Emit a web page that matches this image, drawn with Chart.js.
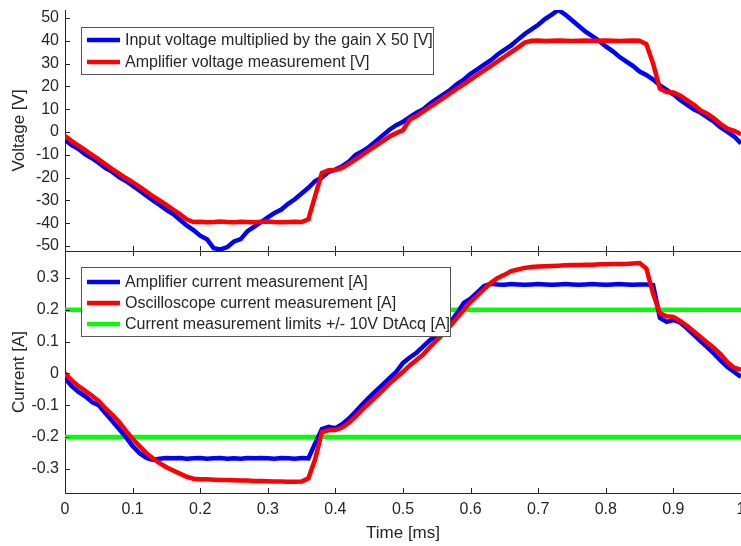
<!DOCTYPE html>
<html>
<head>
<meta charset="utf-8">
<script src="https://cdn.jsdelivr.net/npm/chart.js@4/dist/chart.umd.min.js"></script>
<style>
  body { margin: 0; background: #fff; width: 741px; height: 546px; overflow: hidden; position: relative; }
  #topWrap { position: absolute; left: 0; top: 0; width: 741px; height: 262px; }
  #botWrap { position: absolute; left: 0; top: 240px; width: 741px; height: 306px; }
</style>
</head>
<body>
<div id="topWrap"><canvas id="voltChart"></canvas></div>
<div id="botWrap"><canvas id="currChart"></canvas></div>
<script>
// time axis [ms]
const time = [
  0, 0.01, 0.02, 0.03, 0.04, 0.05, 0.06, 0.07, 0.08, 0.09,
  0.1, 0.11, 0.12, 0.13, 0.14, 0.15, 0.16, 0.17, 0.18, 0.19,
  0.2, 0.21, 0.22, 0.23, 0.24, 0.25, 0.26, 0.27, 0.28, 0.29,
  0.3, 0.31, 0.32, 0.33, 0.34, 0.35, 0.36, 0.37, 0.38, 0.39,
  0.4, 0.41, 0.42, 0.43, 0.44, 0.45, 0.46, 0.47, 0.48, 0.49,
  0.5, 0.51, 0.52, 0.53, 0.54, 0.55, 0.56, 0.57, 0.58, 0.59,
  0.6, 0.61, 0.62, 0.63, 0.64, 0.65, 0.66, 0.67, 0.68, 0.69,
  0.7, 0.71, 0.72, 0.73, 0.74, 0.75, 0.76, 0.77, 0.78, 0.79,
  0.8, 0.81, 0.82, 0.83, 0.84, 0.85, 0.86, 0.87, 0.88, 0.89,
  0.9, 0.91, 0.92, 0.93, 0.94, 0.95, 0.96, 0.97, 0.98, 0.99,
  1
];

// input voltage x 50 [V]
const inputVoltage = [
  -3.5, -5.8, -7.5, -9.8, -11.5, -13.6, -15.8, -17.5, -19.8, -21.5,
  -23.5, -25.6, -27.8, -30, -32, -34.2, -36, -38.5, -41, -43,
  -45.5, -47, -51, -51.5, -50.5, -48, -47, -43.5, -41.5, -39.5,
  -37.5, -35.5, -34, -31.5, -29.5, -27, -24.5, -21.5, -20, -17.5,
  -16.5, -15, -13, -10, -8.5, -6.5, -4, -1.5, 1, 3,
  4.5, 6.5, 8.5, 10, 12.5, 14.5, 16.5, 18.5, 21, 23,
  25.5, 27.5, 29.5, 31.5, 34, 36, 38, 40.5, 43, 45,
  47, 49.5, 51.5, 53.5, 51.5, 49, 46.5, 44, 42, 40,
  37.5, 35.5, 33, 31, 29, 26.5, 25, 23, 20.5, 18.5,
  16.5, 14, 12, 10, 8.5, 6.5, 4.5, 2, 0, -2,
  -5
];

// amplifier voltage measurement [V]
const ampVoltage = [
  -1.8, -4, -6, -8, -10, -12, -14.2, -16.3, -18.3, -20.2,
  -22, -24, -26, -28.2, -30, -32, -34, -36, -38.3, -39.5,
  -39.4, -39.6, -39.5, -39.3, -39.5, -39.6, -39.4, -39.5, -39.6, -39.4,
  -39.3, -39.5, -39.6, -39.5, -39.4, -39.5, -38.3, -28, -18, -16.8,
  -16.7, -15.8, -14, -12, -10, -8, -6, -4, -2, -0.5,
  0.8, 5.5, 7, 9, 11, 13, 15, 17, 19, 21,
  23, 25, 27, 29, 31, 33, 35, 37, 39.2, 40,
  40.1, 39.9, 40, 40.1, 40, 39.9, 40, 40.1, 40, 40,
  40.1, 40, 39.9, 40, 40.1, 40, 38.5, 30, 19, 17.5,
  17.3, 16, 14, 12, 9.5, 8, 6, 3.5, 1.5, 0.5,
  -1
];

// amplifier current measurement [A]
const ampCurrent = [
  -0.014, -0.04, -0.058, -0.072, -0.09, -0.1, -0.125, -0.15, -0.175, -0.2,
  -0.228, -0.25, -0.265, -0.272, -0.268, -0.266, -0.267, -0.266, -0.268, -0.267,
  -0.266, -0.268, -0.267, -0.266, -0.268, -0.267, -0.268, -0.266, -0.267, -0.266,
  -0.267, -0.268, -0.266, -0.267, -0.268, -0.266, -0.267, -0.22, -0.175, -0.168,
  -0.172, -0.16, -0.142, -0.12, -0.097, -0.075, -0.055, -0.035, -0.015, 0.005,
  0.033, 0.05, 0.065, 0.085, 0.105, 0.12, 0.14, 0.16, 0.19, 0.222,
  0.235, 0.255, 0.275, 0.282, 0.28, 0.279, 0.281, 0.28, 0.279, 0.28,
  0.281, 0.28, 0.279, 0.28, 0.281, 0.28, 0.279, 0.28, 0.281, 0.28,
  0.279, 0.28, 0.281, 0.28, 0.279, 0.28, 0.28, 0.278, 0.175, 0.162,
  0.168, 0.16, 0.142, 0.122, 0.102, 0.083, 0.062, 0.04, 0.02, 0.005,
  -0.011
];

// oscilloscope current measurement [A]
const scopeCurrent = [
  0, -0.022, -0.04, -0.055, -0.07, -0.087, -0.11, -0.13, -0.153, -0.18,
  -0.205, -0.228, -0.25, -0.267, -0.282, -0.295, -0.305, -0.315, -0.325, -0.331,
  -0.333, -0.333, -0.334, -0.335, -0.335, -0.336, -0.337, -0.337, -0.338, -0.338,
  -0.339, -0.34, -0.34, -0.341, -0.341, -0.34, -0.33, -0.27, -0.185, -0.178,
  -0.178, -0.17, -0.155, -0.135, -0.113, -0.093, -0.073, -0.053, -0.032, -0.013,
  0.005, 0.025, 0.042, 0.06, 0.083, 0.105, 0.125, 0.15, 0.175, 0.2,
  0.225, 0.245, 0.265, 0.285, 0.3, 0.31, 0.322, 0.327, 0.332, 0.335,
  0.336, 0.337, 0.338, 0.339, 0.34, 0.341, 0.341, 0.342, 0.342, 0.343,
  0.343, 0.344, 0.344, 0.344, 0.346, 0.347, 0.33, 0.25, 0.19, 0.18,
  0.178, 0.165, 0.15, 0.133, 0.115, 0.097, 0.08, 0.06, 0.035, 0.018,
  0.011
];

// DtAcq +/- 10V current limits [A]
const currentLimits = [0.2, -0.2];
const timeRange = [0, 1];

const timeTicks = [0, 0.1, 0.2, 0.3, 0.4, 0.5, 0.6, 0.7, 0.8, 0.9, 1];
const voltTicks = [-50, -40, -30, -20, -10, 0, 10, 20, 30, 40, 50];
const currTicks = [-0.3, -0.2, -0.1, 0, 0.1, 0.2, 0.3];

const TXT = '#262626';
const FONT = "'Liberation Sans', Arial, Helvetica, sans-serif";

function xy(ys) {
  return ys.map((v, i) => ({ x: time[i], y: v }));
}

// boxed legend drawn inside the plot, matlab style
const boxLegend = {
  id: 'boxLegend',
  afterDraw(chart, args, o) {
    const ctx = chart.ctx;
    const items = chart.data.datasets.filter(d => d.label);
    ctx.save();
    ctx.fillStyle = '#fff';
    ctx.fillRect(o.x, o.y, o.w, o.h);
    ctx.strokeStyle = '#555';
    ctx.lineWidth = 1;
    ctx.strokeRect(o.x + 0.5, o.y + 0.5, o.w, o.h);
    ctx.font = '16px ' + FONT;
    ctx.textBaseline = 'middle';
    ctx.fillStyle = TXT;
    items.forEach((d, i) => {
      const cy = o.y + o.first + i * o.step;
      ctx.strokeStyle = d.borderColor;
      ctx.lineWidth = 4.5;
      ctx.beginPath();
      ctx.moveTo(o.x + 6, cy);
      ctx.lineTo(o.x + 39, cy);
      ctx.stroke();
      ctx.fillText(d.label, o.x + 44, cy + 1);
    });
    ctx.restore();
  }
};

// short tick marks pointing into the plot
const inwardTicks = {
  id: 'inwardTicks',
  afterDraw(chart, args, o) {
    const { ctx, chartArea: a, scales } = chart;
    const len = 5;
    ctx.save();
    ctx.strokeStyle = TXT;
    ctx.lineWidth = 1;
    ctx.beginPath();
    scales.y.ticks.forEach(t => {
      const py = Math.round(scales.y.getPixelForValue(t.value)) + 0.5;
      ctx.moveTo(a.left, py);
      ctx.lineTo(a.left + len, py);
    });
    scales.x.ticks.forEach(t => {
      const px = Math.round(scales.x.getPixelForValue(t.value)) + 0.5;
      ctx.moveTo(px, a.bottom);
      ctx.lineTo(px, a.bottom - len);
      if (o.topTicks) {
        ctx.moveTo(px, a.top);
        ctx.lineTo(px, a.top + len);
      }
    });
    ctx.stroke();
    ctx.restore();
  }
};

function line(label, data, color, order) {
  return {
    label: label,
    data: data,
    borderColor: color,
    backgroundColor: color,
    borderWidth: 4.5,
    pointRadius: 0,
    tension: 0,
    order: order
  };
}

function xScale(showLabels) {
  return {
    type: 'linear',
    min: timeRange[0],
    max: timeRange[1],
    afterBuildTicks: s => { s.ticks = timeTicks.map(v => ({ value: v })); },
    afterFit: s => {
      s.height = showLabels ? 53 : 11;
      s.paddingLeft = 0;
      s.paddingRight = 0;
    },
    grid: { display: false, drawTicks: false },
    border: { display: true, color: TXT, width: 1 },
    ticks: {
      display: showLabels,
      padding: 7,
      color: TXT,
      font: { family: FONT, size: 16 },
      maxRotation: 0,
      callback: v => String(v)
    },
    title: {
      display: showLabels,
      text: 'Time [ms]',
      color: TXT,
      font: { family: FONT, size: 17 },
      padding: { top: 0, bottom: 2 }
    }
  };
}

function yScale(title, min, max, tickVals) {
  return {
    type: 'linear',
    min: min,
    max: max,
    afterBuildTicks: s => { s.ticks = tickVals.map(v => ({ value: v })); },
    afterFit: s => {
      s.width = 65;
      s.paddingTop = 0;
      s.paddingBottom = 0;
    },
    grid: { display: false, drawTicks: false },
    border: { display: true, color: TXT, width: 1 },
    ticks: {
      padding: 6,
      color: TXT,
      font: { family: FONT, size: 16 },
      callback: v => String(v)
    },
    title: {
      display: true,
      text: title,
      color: TXT,
      font: { family: FONT, size: 17 },
      padding: { top: 9, bottom: 0 }
    }
  };
}

new Chart(document.getElementById('voltChart'), {
  type: 'line',
  data: {
    datasets: [
      line('Input voltage multiplied by the gain X 50 [V]', xy(inputVoltage), '#0000ff', 1),
      line('Amplifier voltage measurement [V]', xy(ampVoltage), '#ff0000', 0)
    ]
  },
  options: {
    responsive: true,
    maintainAspectRatio: false,
    animation: false,
    layout: { autoPadding: false, padding: { top: 10, left: 0, right: 0, bottom: 0 } },
    plugins: {
      legend: { display: false },
      tooltip: { enabled: false },
      boxLegend: { x: 81, y: 27, w: 352, h: 47, first: 13, step: 22 },
      inwardTicks: { topTicks: false }
    },
    scales: {
      x: xScale(false),
      y: yScale('Voltage [V]', -52.2, 53.5, voltTicks)
    }
  },
  plugins: [inwardTicks, boxLegend]
});

const limitLabel = 'Current measurement limits +/- 10V DtAcq [A]';

new Chart(document.getElementById('currChart'), {
  type: 'line',
  data: {
    datasets: [
      line('Amplifier current measurement [A]', xy(ampCurrent), '#0000ff', 1),
      line('Oscilloscope current measurement [A]', xy(scopeCurrent), '#ff0000', 0),
      line(limitLabel, timeRange.map(t => ({ x: t, y: currentLimits[0] })), '#00ff00', 2),
      line('', timeRange.map(t => ({ x: t, y: currentLimits[1] })), '#00ff00', 2)
    ]
  },
  options: {
    responsive: true,
    maintainAspectRatio: false,
    animation: false,
    layout: { autoPadding: false, padding: { top: 11, left: 0, right: 0, bottom: 0 } },
    plugins: {
      legend: { display: false },
      tooltip: { enabled: false },
      boxLegend: { x: 81, y: 27, w: 369, h: 69, first: 15, step: 21 },
      inwardTicks: { topTicks: true }
    },
    scales: {
      x: xScale(true),
      y: yScale('Current [A]', -0.376, 0.385, currTicks)
    }
  },
  plugins: [inwardTicks, boxLegend]
});
</script>
</body>
</html>
